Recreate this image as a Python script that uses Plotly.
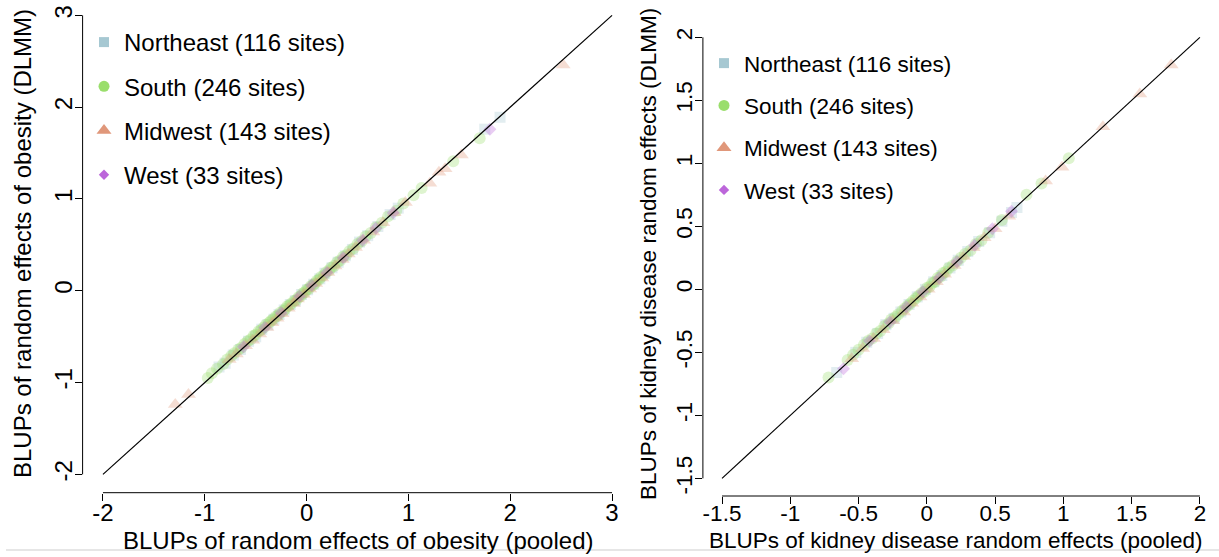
import plotly.graph_objects as go

W, H = 1219, 557

# ---------------- data ----------------
region_names = ["Northeast (116 sites)", "South (246 sites)", "Midwest (143 sites)", "West (33 sites)"]
region_colors = ["#A6C8D2", "#9ADE6C", "#E0977A", "#BC66DA"]
region_symbols = ["square", "circle", "triangle-up", "diamond"]

# Obesity (left panel): pooled (x) vs DLMM (y)
ob_ne_x = [-0.86, -0.80, -0.72, -0.65, -0.57, -0.50, -0.44, -0.38, -0.32, -0.27, -0.22, -0.16, -0.11, -0.05, 0.01,
           0.07, 0.13, 0.18, 0.25, 0.31, 0.38, 0.45, 0.52, 0.60, 0.70, 0.82, 0.90, 1.75, 1.90]
ob_ne_y = [-0.83, -0.79, -0.70, -0.64, -0.55, -0.50, -0.42, -0.37, -0.31, -0.26, -0.21, -0.15, -0.11, -0.04, 0.01,
           0.07, 0.13, 0.19, 0.25, 0.31, 0.38, 0.45, 0.53, 0.60, 0.70, 0.83, 0.90, 1.76, 1.89]
ob_so_x = [-0.97, -0.93, -0.88, -0.82, -0.78, -0.74, -0.71, -0.67, -0.64, -0.61, -0.58, -0.55, -0.52, -0.50, -0.47,
           -0.45, -0.42, -0.40, -0.37, -0.35, -0.33, -0.30, -0.28, -0.26, -0.23, -0.21, -0.19, -0.17, -0.15, -0.12,
           -0.10, -0.08, -0.06, -0.04, -0.02, 0.00, 0.02, 0.04, 0.06, 0.08, 0.10, 0.12, 0.14, 0.17, 0.19, 0.22, 0.24,
           0.27, 0.30, 0.33, 0.36, 0.39, 0.42, 0.46, 0.50, 0.54, 0.58, 0.63, 0.68, 0.74, 0.80, 0.88, 0.95, 1.05, 1.13,
           1.44, 1.70]
ob_so_y = [-0.95, -0.90, -0.85, -0.80, -0.75, -0.71, -0.68, -0.64, -0.62, -0.58, -0.55, -0.53, -0.49, -0.48, -0.44,
           -0.43, -0.40, -0.37, -0.35, -0.33, -0.31, -0.28, -0.27, -0.24, -0.22, -0.20, -0.17, -0.16, -0.14, -0.11,
           -0.10, -0.07, -0.06, -0.03, -0.02, 0.01, 0.02, 0.05, 0.06, 0.08, 0.11, 0.12, 0.15, 0.17, 0.20, 0.22, 0.25,
           0.27, 0.31, 0.33, 0.37, 0.39, 0.43, 0.46, 0.51, 0.54, 0.59, 0.63, 0.69, 0.74, 0.81, 0.87, 0.95, 1.04, 1.12,
           1.41, 1.66]
ob_mw_x = [-1.29, -1.16, -0.76, -0.69, -0.60, -0.53, -0.46, -0.39, -0.34, -0.29, -0.24, -0.18, -0.13, -0.09, -0.03,
           0.03, 0.09, 0.15, 0.21, 0.28, 0.35, 0.41, 0.48, 0.56, 0.65, 0.75, 0.86, 0.97, 1.21, 1.30, 1.36, 1.52, 2.52]
ob_mw_y = [-1.24, -1.13, -0.75, -0.69, -0.60, -0.54, -0.47, -0.40, -0.35, -0.30, -0.25, -0.19, -0.14, -0.09, -0.04,
           0.02, 0.08, 0.14, 0.20, 0.27, 0.34, 0.40, 0.47, 0.55, 0.64, 0.74, 0.85, 0.96, 1.17, 1.29, 1.33, 1.48, 2.46]
ob_we_x = [-0.62, -0.41, -0.25, -0.07, 0.05, 0.20, 0.36, 0.55, 0.68, 0.85, 1.80]
ob_we_y = [-0.61, -0.40, -0.24, -0.06, 0.06, 0.20, 0.36, 0.55, 0.68, 0.85, 1.76]

# Kidney disease (right panel): pooled (x) vs DLMM (y)
kd_ne_x = [-0.66, -0.52, -0.44, -0.36, -0.30, -0.24, -0.19, -0.13, -0.07, -0.01, 0.05, 0.11, 0.17, 0.23, 0.30,
           0.38, 0.46, 0.55, 0.62, 0.66]
kd_ne_y = [-0.66, -0.50, -0.42, -0.35, -0.28, -0.23, -0.18, -0.12, -0.06, 0.00, 0.06, 0.11, 0.17, 0.23, 0.30,
           0.38, 0.45, 0.54, 0.61, 0.65]
kd_so_x = [-0.72, -0.58, -0.54, -0.50, -0.46, -0.43, -0.40, -0.37, -0.34, -0.31, -0.28, -0.26, -0.23, -0.21, -0.18,
           -0.16, -0.14, -0.12, -0.10, -0.08, -0.06, -0.04, -0.02, 0.00, 0.02, 0.04, 0.06, 0.08, 0.10, 0.12, 0.14,
           0.16, 0.19, 0.22, 0.25, 0.28, 0.32, 0.36, 0.40, 0.45, 0.55, 0.73, 0.84, 1.04]
kd_so_y = [-0.70, -0.56, -0.52, -0.48, -0.44, -0.41, -0.39, -0.35, -0.33, -0.29, -0.27, -0.24, -0.22, -0.20, -0.17,
           -0.15, -0.13, -0.11, -0.09, -0.07, -0.05, -0.03, -0.02, 0.01, 0.02, 0.05, 0.06, 0.09, 0.10, 0.13, 0.14,
           0.17, 0.19, 0.22, 0.25, 0.28, 0.31, 0.36, 0.39, 0.45, 0.55, 0.75, 0.84, 1.04]
kd_mw_x = [-0.55, -0.47, -0.39, -0.32, -0.25, -0.17, -0.11, -0.05, 0.01, 0.07, 0.13, 0.20, 0.27, 0.34, 0.42, 0.50,
           0.60, 0.87, 0.99, 1.29, 1.56, 1.79]
kd_mw_y = [-0.55, -0.47, -0.39, -0.32, -0.25, -0.18, -0.11, -0.06, 0.00, 0.06, 0.12, 0.19, 0.26, 0.33, 0.41, 0.48,
           0.58, 0.86, 0.97, 1.29, 1.55, 1.78]
kd_we_x = [-0.61, -0.42, -0.27, -0.15, -0.03, 0.09, 0.22, 0.35, 0.48, 0.62]
kd_we_y = [-0.63, -0.41, -0.26, -0.14, -0.02, 0.09, 0.22, 0.35, 0.48, 0.62]

ob_ticks = [-2, -1, 0, 1, 2, 3]
ob_tick_labels = ["-2", "-1", "0", "1", "2", "3"]
kd_ticks = [-1.5, -1, -0.5, 0, 0.5, 1, 1.5, 2]
kd_tick_labels = ["-1.5", "-1", "-0.5", "0", "0.5", "1", "1.5", "2"]

ob_xtitle = "BLUPs of random effects of obesity (pooled)"
ob_ytitle = "BLUPs of random effects of obesity (DLMM)"
kd_xtitle = "BLUPs of kidney disease random effects (pooled)"
kd_ytitle = "BLUPs of kidney disease random effects (DLMM)"

# ---------------- figure ----------------
FONT = "Liberation Sans, Arial, sans-serif"
marker_sizes = [11, 12, 13, 10]
legend_sizes = [10, 11, 13, 8]
ALPHA = 0.33

fig = go.Figure()

ob_sets = [(ob_ne_x, ob_ne_y), (ob_so_x, ob_so_y), (ob_mw_x, ob_mw_y), (ob_we_x, ob_we_y)]
kd_sets = [(kd_ne_x, kd_ne_y), (kd_so_x, kd_so_y), (kd_mw_x, kd_mw_y), (kd_we_x, kd_we_y)]

for (xs, ys), col, sym, sz in zip(ob_sets, region_colors, region_symbols, marker_sizes):
    fig.add_trace(go.Scatter(x=xs, y=ys, mode="markers", xaxis="x", yaxis="y", showlegend=False,
                             marker=dict(symbol=sym, size=sz, color=col, opacity=ALPHA, line=dict(width=0))))
for (xs, ys), col, sym, sz in zip(kd_sets, region_colors, region_symbols, marker_sizes):
    fig.add_trace(go.Scatter(x=xs, y=ys, mode="markers", xaxis="x2", yaxis="y2", showlegend=False,
                             marker=dict(symbol=sym, size=sz, color=col, opacity=ALPHA, line=dict(width=0))))

# identity lines
fig.add_trace(go.Scatter(x=[min(ob_ticks), max(ob_ticks)], y=[min(ob_ticks), max(ob_ticks)], mode="lines",
                         xaxis="x", yaxis="y", showlegend=False, line=dict(color="black", width=1.2)))
fig.add_trace(go.Scatter(x=[min(kd_ticks), max(kd_ticks)], y=[min(kd_ticks), max(kd_ticks)], mode="lines",
                         xaxis="x2", yaxis="y2", showlegend=False, line=dict(color="black", width=1.2)))

# legend-only entries (solid symbols)
for i, (name, col, sym, sz) in enumerate(zip(region_names, region_colors, region_symbols, legend_sizes)):
    fig.add_trace(go.Scatter(x=[None], y=[None], mode="markers", name=name, xaxis="x", yaxis="y",
                             legend="legend", legendgroup="L%d" % i,
                             marker=dict(symbol=sym, size=sz, color=col, line=dict(width=0))))
    fig.add_trace(go.Scatter(x=[None], y=[None], mode="markers", name=name, xaxis="x2", yaxis="y2",
                             legend="legend2", legendgroup="R%d" % i,
                             marker=dict(symbol=sym, size=sz, color=col, line=dict(width=0))))

# pixel layout
L_x0, L_x1 = 82.6, 632.4
L_bot = 492.7
R_x0, R_x1 = 702.9, 1219.0
R_bot, R_top = 496.0, 19.7
L_ppu = 91.8

axis_common = dict(showgrid=False, zeroline=False, showline=False, ticks="outside", ticklen=7, tickwidth=1,
                   tickcolor="black", color="black")

fig.update_layout(
    width=W, height=H, margin=dict(l=0, r=0, t=0, b=0),
    paper_bgcolor="white", plot_bgcolor="white",
    font=dict(family=FONT, color="black"),
    xaxis=dict(domain=[L_x0 / W, L_x1 / W], range=[-2.2, 3.2], tickvals=ob_ticks, ticktext=ob_tick_labels,
               anchor="y", tickfont=dict(size=24), ticklabelstandoff=-9, **axis_common),
    yaxis=dict(domain=[(H - L_bot) / H, 1], range=[-2.2, -2.2 + L_bot / L_ppu], tickvals=ob_ticks,
               ticktext=ob_tick_labels, anchor="x", tickangle=-90, tickfont=dict(size=24),
               ticklabelstandoff=-7, **axis_common),
    xaxis2=dict(domain=[R_x0 / W, R_x1 / W], range=[-1.64, 2.14], tickvals=kd_ticks, ticktext=kd_tick_labels,
                anchor="y2", tickfont=dict(size=22.5), ticklabelstandoff=-10, **axis_common),
    yaxis2=dict(domain=[(H - R_bot) / H, (H - R_top) / H], range=[-1.64, 2.14], tickvals=kd_ticks,
                ticktext=kd_tick_labels, anchor="x2", tickangle=-90, tickfont=dict(size=22.5),
                ticklabelstandoff=-6, **axis_common),
    legend=dict(x=84 / W, y=1 - 20 / H, xanchor="left", yanchor="top", bgcolor="rgba(0,0,0,0)",
                font=dict(size=24, family=FONT), tracegroupgap=10, itemsizing="trace"),
    legend2=dict(x=704 / W, y=1 - 42 / H, xanchor="left", yanchor="top", bgcolor="rgba(0,0,0,0)",
                 font=dict(size=22.5, family=FONT), tracegroupgap=10, itemsizing="trace"),
    shapes=[
        dict(type="line", xref="x", yref="y domain", x0=min(ob_ticks), x1=max(ob_ticks), y0=0, y1=0,
             line=dict(color="black", width=1)),
        dict(type="line", xref="x domain", yref="y", x0=0, x1=0, y0=min(ob_ticks), y1=max(ob_ticks),
             line=dict(color="black", width=1)),
        dict(type="line", xref="x2", yref="y2 domain", x0=min(kd_ticks), x1=max(kd_ticks), y0=0, y1=0,
             line=dict(color="black", width=1)),
        dict(type="line", xref="x2 domain", yref="y2", x0=0, x1=0, y0=min(kd_ticks), y1=max(kd_ticks),
             line=dict(color="black", width=1)),
        dict(type="line", xref="paper", yref="paper", x0=6 / W, x1=1, y0=(H - 550) / H, y1=(H - 550) / H,
             line=dict(color="#dedede", width=1.5)),
    ],
    annotations=[
        dict(text=ob_xtitle, xref="paper", yref="paper", x=(L_x0 + L_x1) / 2 / W, y=(H - 540) / H,
             showarrow=False, font=dict(size=24), xanchor="center", yanchor="middle"),
        dict(text=ob_ytitle, xref="paper", yref="paper", x=22 / W, y=(H - 244) / H, textangle=-90,
             showarrow=False, font=dict(size=24), xanchor="center", yanchor="middle"),
        dict(text=kd_xtitle, xref="paper", yref="paper", x=956 / W, y=(H - 540) / H,
             showarrow=False, font=dict(size=22.5), xanchor="center", yanchor="middle"),
        dict(text=kd_ytitle, xref="paper", yref="paper", x=648 / W, y=(H - 254) / H, textangle=-90,
             showarrow=False, font=dict(size=22.5), xanchor="center", yanchor="middle"),
    ],
)

fig.write_html("out.html", config={"displayModeBar": False},
               post_script="document.body.style.margin='0';document.body.style.overflow='hidden';")
